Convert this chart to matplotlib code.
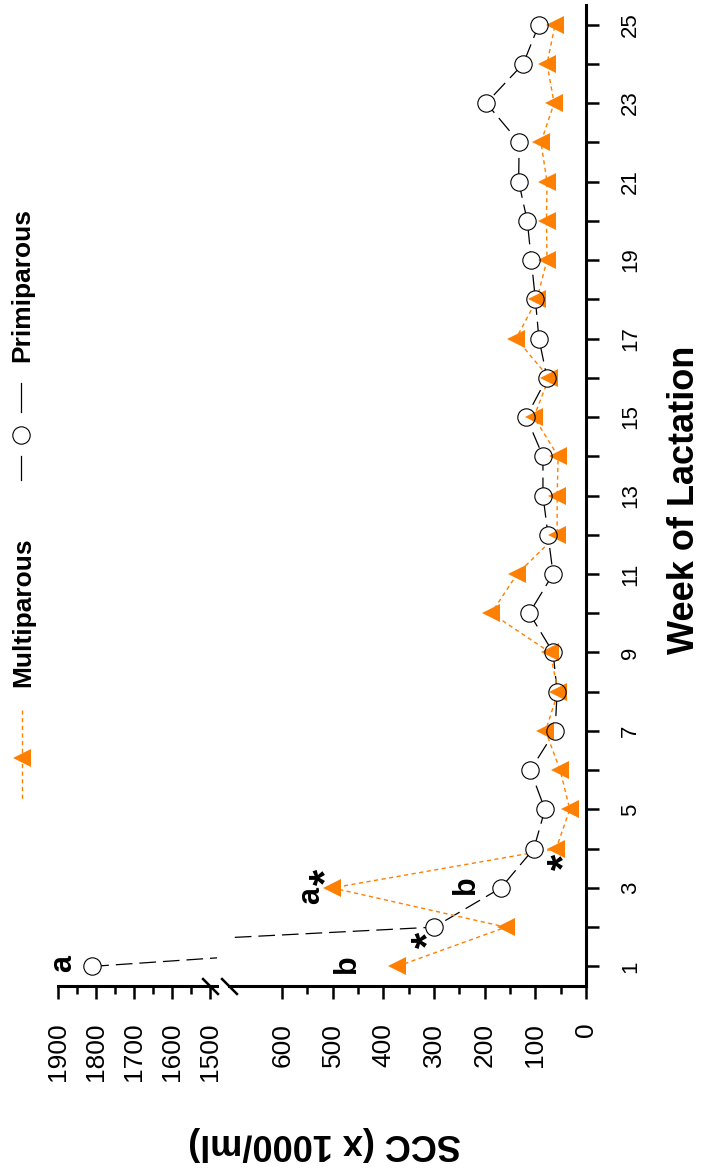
import matplotlib
matplotlib.use("Agg")
import matplotlib.pyplot as plt

plt.rcParams["font.family"] = ["Liberation Sans", "DejaVu Sans"]
plt.rcParams["lines.scale_dashes"] = False

# --- data ---
weeks = list(range(1, 26))
primiparous = [1810, 300, 168, 103, 81, 110, 61, 57, 65, 112, 65, 75, 85,
               85, 118, 77, 93, 100, 108, 116, 133, 132, 197, 124, 93]
multiparous = [373, 158, 501, 59, 32, 51, 80, 55, 71, 187, 136, 57, 57,
               55, 103, 73, 138, 97, 77, 78, 77, 89, 63, 77, 61]
week_labels = [str(w) if w % 2 else "" for w in weeks]
lo_ticks = list(range(0, 700, 100))
hi_ticks = list(range(1500, 2000, 100))

# significance letters / asterisks: (text, SCC, week, segment)
notes = [("a", 1887, 1.08, "hi"), ("b", 472, 1.08, "lo"),
         ("a", 543, 2.81, "lo"), ("b", 237, 3.09, "lo")]
stars = [(335, 1.67), (537, 3.29), (67, 3.65)]

ORANGE = "#FF8000"
W, H = 707, 1174


def px_box(x0, y0, x1, y1):
    return [x0 / W, 1 - y1 / H, (x1 - x0) / W, (y1 - y0) / H]


fig = plt.figure(figsize=(W / 100, H / 100), dpi=100)
ax_lo = fig.add_axes(px_box(229, 5, 586, 986))
ax_hi = fig.add_axes(px_box(58, 5, 217, 986))

for ax in (ax_lo, ax_hi):
    ax.plot(primiparous, weeks, color="black", lw=0.9, ls=(0, (12, 5)), zorder=2)
    ax.plot(multiparous, weeks, color=ORANGE, lw=1.0, ls=(0, (3, 2.5)), zorder=2)
    ax.plot(primiparous, weeks, ls="none", marker="o", ms=12.5, mfc="white",
            mec="none", zorder=3)
    ax.plot(multiparous, weeks, ls="none", marker="<", ms=13, mfc=ORANGE,
            mec=ORANGE, mew=0, zorder=4)
    ax.plot(primiparous, weeks, ls="none", marker="o", ms=12.5, mfc="none",
            mec="black", mew=0.8, zorder=5)
    ax.set_ylim(0.5, 25.5)
    ax.patch.set_visible(False)
    for s in ("top", "left", "right"):
        ax.spines[s].set_visible(False)
    ax.spines["bottom"].set_linewidth(2.2)
    ax.tick_params(axis="x", which="major", direction="out", length=9.4,
                   width=1.8, pad=17)
    ax.tick_params(axis="x", which="minor", direction="out", length=5.8,
                   width=1.8)

ax_lo.set_xlim(705, 0)
ax_hi.set_xlim(1900, 1482)

# week axis (right side of the lower segment)
ax_lo.spines["right"].set_visible(True)
ax_lo.spines["right"].set_linewidth(2.2)
ax_lo.yaxis.tick_right()
ax_lo.set_yticks(weeks)
ax_lo.set_yticklabels(week_labels, rotation=90, va="center", ha="left", fontsize=16)
ax_lo.tick_params(axis="y", direction="out", length=9.4, width=1.8, pad=15)
ax_hi.set_yticks([])

ax_lo.set_xticks(lo_ticks)
ax_lo.set_xticks(range(50, 600, 100), minor=True)
ax_lo.set_xticklabels([str(t) for t in lo_ticks], rotation=90, fontsize=19)
ax_hi.set_xticks(hi_ticks)
ax_hi.set_xticks(range(1550, 1900, 100), minor=True)
ax_hi.set_xticklabels([str(t) for t in hi_ticks], rotation=90, fontsize=19)

# axis break marks
kw = dict(marker=[(-1, 1), (1, -1)], markersize=12, ls="none", color="k",
          mec="k", mew=1.8, clip_on=False, zorder=6)
ax_hi.plot([1500], [0], transform=ax_hi.get_xaxis_transform(), **kw)
ax_lo.plot([0], [0], transform=ax_lo.transAxes, **kw)

# annotations
for s, v, w, seg in notes:
    ax = ax_hi if seg == "hi" else ax_lo
    ax.annotate(s, xy=(v, w), rotation=90, ha="center", va="center",
                fontsize=22, fontweight="bold", annotation_clip=False)
for v, w in stars:
    ax_lo.annotate("*", xy=(v, w), xytext=(9, 0), textcoords="offset points",
                   rotation=90, ha="center", va="center", fontsize=30,
                   fontweight="bold", annotation_clip=False)

# axis titles
fig.text(685 / W, 1 - 500 / H, "Week of Lactation", rotation=90, ha="center",
         va="center", fontsize=26, fontweight="bold")
fig.text(325 / W, 1 - 1143 / H, "SCC (x 1000/ml)", rotation=180, ha="center",
         va="center", fontsize=26, fontweight="bold")

# legend, drawn by hand since it sits rotated on the left edge
ax_ov = fig.add_axes([0, 0, 1, 1])
ax_ov.set_xlim(0, W)
ax_ov.set_ylim(H, 0)
ax_ov.axis("off")
ax_ov.plot([21, 21], [383, 412], color="black", lw=0.9)
ax_ov.plot([21, 21], [456, 480], color="black", lw=0.9)
ax_ov.plot([21], [435], marker="o", ms=12.5, mfc="white", mec="black", mew=0.8)
ax_ov.text(22, 285, "Primiparous", rotation=90, ha="center", va="center",
           fontsize=19, fontweight="bold")
ax_ov.plot([22, 22], [710, 800], color=ORANGE, lw=1.0, ls=(0, (3, 2.5)))
ax_ov.plot([22], [758], marker="<", ms=13, mfc=ORANGE, mec=ORANGE, mew=0)
ax_ov.text(23, 612, "Multiparous", rotation=90, ha="center", va="center",
           fontsize=19, fontweight="bold")

fig.savefig("out.png", dpi=100)
